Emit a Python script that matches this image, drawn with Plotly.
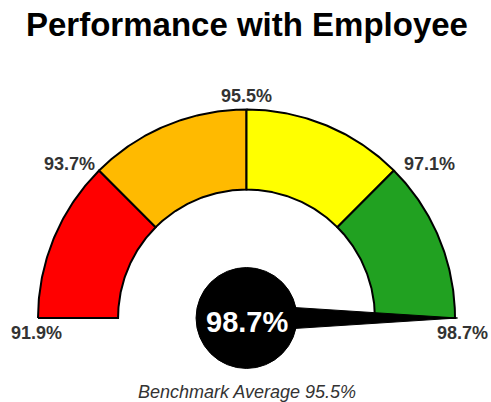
import numpy as np
import plotly.graph_objects as go

# ---- data ----
title_text = "Performance with Employee"
thresholds = [91.9, 93.7, 95.5, 97.1, 98.7]
band_colors = ["#FF0000", "#FFBA00", "#FFFF00", "#21A121"]
value = 98.7
benchmark = 95.5
tick_labels = [f"{t}%" for t in thresholds]

# gauge geometry (relative units: outer radius = 1)
R_OUT, R_IN = 1.0, 0.616
HUB_R = 0.242
# angles: each band occupies an equal quarter of the half circle
band_angles = list(np.linspace(180, 0, len(thresholds)))


def ang(v):
    return float(np.interp(v, thresholds, band_angles))


fig = go.Figure()

for i, col in enumerate(band_colors):
    a0, a1 = np.radians(ang(thresholds[i])), np.radians(ang(thresholds[i + 1]))
    t = np.linspace(a0, a1, 80)
    xs = np.concatenate([R_OUT * np.cos(t), R_IN * np.cos(t[::-1]), [R_OUT * np.cos(t[0])]])
    ys = np.concatenate([R_OUT * np.sin(t), R_IN * np.sin(t[::-1]), [R_OUT * np.sin(t[0])]])
    fig.add_trace(go.Scatter(x=xs, y=ys, mode="lines", fill="toself", fillcolor=col,
                             line=dict(color="black", width=2), hoverinfo="skip",
                             showlegend=False))

# needle
th = np.radians(ang(value))
tip = 1.012
hw = 0.065
nx = [tip * np.cos(th), -hw * np.sin(th), hw * np.sin(th), tip * np.cos(th)]
ny = [tip * np.sin(th), hw * np.cos(th), -hw * np.cos(th), tip * np.sin(th)]
fig.add_trace(go.Scatter(x=nx, y=ny, mode="lines", fill="toself", fillcolor="black",
                         line=dict(color="black", width=1), hoverinfo="skip",
                         showlegend=False))

# hub
fig.add_shape(type="circle", xref="x", yref="y", x0=-HUB_R, y0=-HUB_R, x1=HUB_R, y1=HUB_R,
              fillcolor="black", line=dict(color="black", width=1), layer="above")

FONT = "Liberation Sans, Arial, sans-serif"
fig.add_annotation(x=0, y=-0.02, text=f"<b>{value}%</b>", showarrow=False,
                   font=dict(family=FONT, size=29, color="white"),
                   xanchor="center", yanchor="middle")

# threshold labels
for t, lab in zip(thresholds, tick_labels):
    a = ang(t)
    ar = np.radians(a)
    if abs(a - 180) < 1 or abs(a) < 1:
        x, y, xa = 1.02 * np.cos(ar) + 0.015, -0.072, "center"
    elif abs(a - 90) < 1:
        x, y, xa = 0.0, 1.065, "center"
    elif a > 90:
        x, y, xa = 1.01 * np.cos(ar) - 0.003, 0.74, "right"
    else:
        x, y, xa = 1.01 * np.cos(ar) + 0.032, 0.74, "left"
    fig.add_annotation(x=x, y=y, text=f"<b>{lab}</b>", showarrow=False,
                       font=dict(family=FONT, size=18, color="#333333"),
                       xanchor=xa, yanchor="middle")

fig.add_annotation(x=0, y=-0.355, text=f"<i>Benchmark Average {benchmark}%</i>",
                   showarrow=False, font=dict(family=FONT, size=18, color="#333333"),
                   xanchor="center", yanchor="middle")

W, H = 491, 402
cx, cy, scale = 246.5, 318.0, 208.5
fig.update_layout(
    width=W, height=H,
    margin=dict(l=0, r=0, t=0, b=0),
    paper_bgcolor="white", plot_bgcolor="white",
    title=dict(text=f"<b>{title_text}</b>", x=247 / W, xanchor="center",
               y=1 - 24 / H, yanchor="middle", yref="container", xref="container",
               font=dict(family=FONT, size=33, color="black")),
    xaxis=dict(range=[-cx / scale, (W - cx) / scale], visible=False, fixedrange=True),
    yaxis=dict(range=[-(H - cy) / scale, cy / scale], visible=False, fixedrange=True),
    showlegend=False,
    hovermode=False,
)

fig.write_html(
    "out.html",
    config={"displayModeBar": False, "staticPlot": True},
    post_script="document.body.style.margin='0';document.body.style.overflow='hidden';",
)
